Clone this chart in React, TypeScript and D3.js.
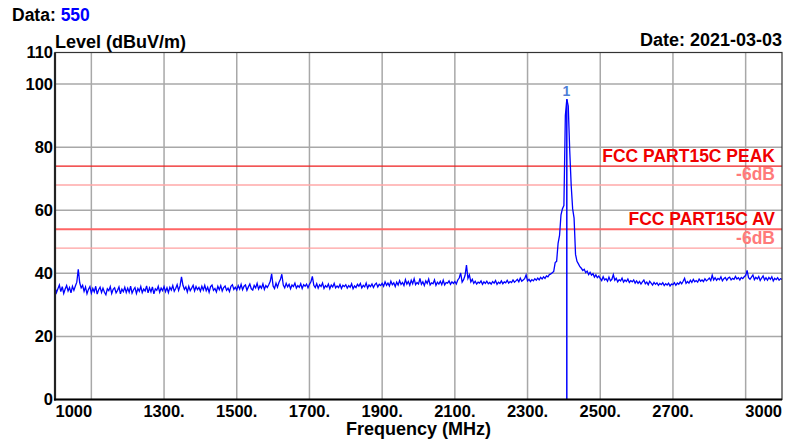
import React from "react";
import { scaleLinear, line } from "d3";

// sweep: 1000..3000 MHz, one reading every 4 MHz
const SWEEP_START = 1000;
const SWEEP_STEP = 4;
const LEVELS = [
  // 1000
  35.6, 33.9, 35.1, 36.3, 34.2, 35.8, 33.6, 35.0, 36.1, 34.4, 35.5, 33.8, 35.9, 34.6, 36.0, 37.2, 41.3, 37.0, 35.4, 36.2, 34.3, 35.7, 33.5, 34.9, 35.8,
  // 1100
  33.7, 35.2, 34.1, 35.9, 33.4, 34.8, 35.6, 33.9, 35.3, 34.0, 33.2, 35.1, 34.5, 35.8, 33.6, 34.9, 35.4, 33.8, 34.6, 35.7, 33.5, 35.0, 34.2, 35.6, 33.9,
  // 1200
  35.3, 34.0, 35.9, 33.7, 34.8, 35.5, 33.6, 35.2, 34.3, 35.8, 33.9, 35.0, 34.4, 36.0, 33.8, 35.4, 34.1, 35.7, 33.5, 35.1, 34.6, 35.9, 34.0, 35.3, 34.5,
  // 1300
  35.8, 34.2, 35.4, 33.9, 35.6, 34.7, 36.1, 34.3, 35.2, 36.4, 34.6, 36.0, 38.9, 36.2, 34.9, 35.7, 34.1, 35.9, 34.5, 35.3, 36.2, 34.4, 35.8, 34.8, 35.5,
  // 1400
  34.3, 35.9, 34.7, 36.2, 34.5, 35.6, 34.0, 35.8, 36.3, 34.6, 35.2, 34.1, 35.9, 34.8, 36.1, 34.4, 35.5, 36.0, 34.6, 35.3, 34.2, 35.9, 36.4, 34.9, 35.6,
  // 1500
  34.7, 36.1, 35.0, 36.5, 34.8, 35.9, 36.3, 34.6, 35.7, 36.6, 35.1, 34.7, 36.2, 35.4, 36.8, 35.0, 36.0, 35.3, 36.7, 34.9, 36.1, 35.5, 36.4, 37.4, 39.8,
  // 1600
  36.0, 35.2, 36.9, 35.6, 37.1, 38.0, 39.7, 36.3, 35.4, 36.8, 35.7, 36.5, 35.1, 36.3, 35.8, 36.9, 35.3, 36.1, 35.6, 36.7, 35.2, 36.4, 35.9, 36.6, 35.4,
  // 1700
  36.5, 37.3, 39.0, 36.2, 35.5, 36.7, 35.3, 36.4, 35.8, 36.9, 35.2, 36.1, 35.6, 36.6, 35.1, 36.3, 35.7, 36.8, 35.4, 36.0, 35.5, 36.5, 35.2, 36.2, 35.8,
  // 1800
  36.4, 35.3, 36.1, 35.6, 36.7, 35.1, 36.0, 35.5, 36.5, 35.9, 36.8, 35.4, 36.2, 35.7, 36.9, 35.3, 36.3, 35.8, 36.6, 35.5, 36.4, 36.9, 35.7, 36.5, 36.1,
  // 1900
  36.8, 35.9, 37.3, 36.2, 36.9, 36.0, 37.5, 36.4, 37.0, 35.8, 37.2, 36.3, 37.7, 36.5, 37.1, 36.1, 38.0, 36.6, 37.4, 36.2, 37.8, 36.7, 38.3, 36.4, 37.1,
  // 2000
  36.6, 38.4, 36.5, 37.3, 36.1, 37.6, 36.8, 38.2, 36.3, 37.0, 36.7, 37.9, 36.2, 37.2, 36.6, 37.5, 36.4, 37.8, 36.3, 37.1, 36.9, 37.6, 36.5, 37.3, 36.8,
  // 2100
  37.4, 36.6, 37.9, 38.5, 40.1, 37.2, 38.0, 39.3, 42.6, 38.4, 39.5, 37.3, 38.1, 36.8, 37.5, 36.6, 37.2, 36.9, 37.6, 36.5, 37.3, 36.8, 37.5, 36.7, 37.1,
  // 2200
  36.6, 37.4, 36.9, 37.7, 36.5, 37.2, 36.8, 37.6, 36.7, 37.3, 37.0, 37.8, 36.9, 37.4, 37.1, 37.9, 37.2, 37.6, 38.1, 37.3, 38.5, 37.5, 37.9, 38.3, 39.5,
  // 2300
  37.6, 38.1, 37.4, 38.0, 37.6, 38.3, 37.8, 38.5, 37.9, 38.7, 38.2, 38.9, 38.4, 39.2, 38.9, 39.6, 39.8, 40.2, 40.6, 43.4, 43.8, 49.5, 52.0, 58.5, 60.5,
  // 2400
  61.5, 90.0, 95.2, 93.0, 79.0, 68.0, 60.5, 57.5, 46.0, 43.8, 43.0, 42.1, 41.6, 40.9, 41.3, 40.2, 40.7, 39.6, 40.3, 39.4, 39.9, 38.8, 39.5, 38.6, 39.1,
  // 2500
  38.4, 37.7, 38.9, 37.9, 38.3, 37.5, 38.8, 37.6, 38.1, 39.6, 37.8, 38.4, 37.3, 38.0, 37.6, 38.5, 37.2, 37.9, 37.4, 38.2, 37.1, 37.7, 37.3, 37.9, 36.9,
  // 2600
  37.6, 36.8, 37.4, 36.6, 37.3, 37.9, 36.7, 37.2, 36.4, 37.5, 36.9, 36.3, 37.1, 36.5, 37.0, 36.2, 36.8, 36.4, 37.0, 36.1, 36.7, 36.3, 36.9, 36.0, 36.6,
  // 2700
  36.4, 37.0, 36.2, 36.9, 36.5, 37.3, 36.7, 37.5, 38.4, 36.8, 37.4, 36.9, 37.8, 37.1, 38.1, 37.3, 37.7, 37.2, 38.2, 37.5, 37.9, 37.4, 38.3, 37.6, 38.0,
  // 2800
  38.5, 37.7, 39.4, 37.9, 38.6, 37.8, 38.4, 38.0, 38.9, 37.6, 38.3, 38.7, 37.8, 38.5, 38.8, 37.9, 38.4, 38.1, 39.0, 38.2, 38.6, 37.9, 38.7, 38.3, 38.9,
  // 2900
  39.3, 40.9, 38.6, 38.1, 38.8, 39.5, 38.0, 38.7, 38.2, 39.0, 37.7, 38.5, 39.2, 37.9, 38.6, 37.8, 38.7, 38.1, 38.9, 37.6, 38.4, 38.0, 38.6, 37.8, 38.3,
  // 3000
  38.1,
];

const MARKER_FREQ = 2408;
const MARKER_LEVEL = 95.2;
const MARKER_LABEL = "1";

const LEVEL_TICKS = [0, 20, 40, 60, 80, 100, 110];
const LEVEL_GRID = [20, 40, 60, 80, 100];
const FREQ_GRID = [1100, 1300, 1500, 1700, 1900, 2100, 2300, 2500, 2700, 2900];
const FREQ_LABEL_VALUES = [1000, 1300, 1500, 1700, 1900, 2100, 2300, 2500, 2700, 3000];
const FREQ_LABEL_TEXT = ["1000", "1300.", "1500.", "1700.", "1900.", "2100.", "2300.", "2500.", "2700.", "3000"];

const LIMIT_LEVELS = [74, 68, 54, 48];
const LIMIT_TEXT = ["FCC PART15C PEAK", "-6dB", "FCC PART15C AV", "-6dB"];

const W = 795;
const H = 441;
const FONT = "'Liberation Sans', Arial, sans-serif";

export default function App() {
  const x = scaleLinear().domain([1000, 3000]).range([55, 782]);
  const y = scaleLinear().domain([0, 110]).range([399.5, 52.5]);

  const pts = LEVELS.map((v, i) => [SWEEP_START + i * SWEEP_STEP, v] as [number, number]);
  const trace = line<[number, number]>()
    .x((d) => x(d[0]))
    .y((d) => y(d[1]))(pts);

  const limitStyle = [
    { stroke: "#ee1c1c", width: 1.2, text: "#f00000" },
    { stroke: "#ffa8a8", width: 1.5, text: "#ff7a7a" },
    { stroke: "#ff6464", width: 2, text: "#f00000" },
    { stroke: "#ffa0a0", width: 1.2, text: "#ff7a7a" },
  ];

  return (
    <div style={{ position: "fixed", left: 0, top: 0 }}>
      <svg width={W} height={H} style={{ display: "block", background: "#fff" }} fontFamily={FONT}>
        {/* header */}
        <text x={12} y={21} fontSize={17.5} fontWeight="bold" fill="#000">
          Data: <tspan fill="#0000ff">550</tspan>
        </text>
        <text x={55} y={47.5} fontSize={18} fontWeight="bold" fill="#000">
          Level (dBuV/m)
        </text>
        <text x={782} y={46} fontSize={18} fontWeight="bold" fill="#000" textAnchor="end">
          Date: 2021-03-03
        </text>

        {/* grid */}
        {FREQ_GRID.map((f) => (
          <line key={"v" + f} x1={x(f)} x2={x(f)} y1={y(110)} y2={y(0)} stroke="#a8a8a8" strokeWidth={1.5} />
        ))}
        {LEVEL_GRID.map((l) => (
          <line key={"h" + l} x1={x(1000)} x2={x(3000)} y1={y(l)} y2={y(l)} stroke="#a8a8a8" strokeWidth={1.5} />
        ))}

        {/* limit lines */}
        {LIMIT_LEVELS.map((l, i) => (
          <g key={"lim" + i}>
            <line
              x1={x(1000)}
              x2={x(3000)}
              y1={y(l)}
              y2={y(l)}
              stroke={limitStyle[i].stroke}
              strokeWidth={limitStyle[i].width}
            />
            <text
              x={775}
              y={y(l) - 4.5}
              fontSize={17.5}
              fontWeight="bold"
              textAnchor="end"
              fill={limitStyle[i].text}
            >
              {LIMIT_TEXT[i]}
            </text>
          </g>
        ))}

        {/* trace */}
        <path d={trace || ""} fill="none" stroke="#0000ff" strokeWidth={1.3} strokeLinejoin="miter" />

        {/* marker */}
        <line
          x1={x(MARKER_FREQ)}
          x2={x(MARKER_FREQ)}
          y1={y(MARKER_LEVEL)}
          y2={y(0)}
          stroke="#0000ff"
          strokeWidth={1.5}
        />
        <text
          x={x(MARKER_FREQ) - 0.5}
          y={y(MARKER_LEVEL) - 3.5}
          fontSize={14}
          fontWeight="bold"
          textAnchor="middle"
          fill="#4f7fd6"
        >
          {MARKER_LABEL}
        </text>

        {/* frame */}
        <rect x={x(1000)} y={y(110)} width={x(3000) - x(1000)} height={y(0) - y(110)} fill="none" stroke="#333" strokeWidth={1.2} />
        <line x1={x(1000)} x2={x(1000)} y1={y(110)} y2={y(0) + 1} stroke="#222" strokeWidth={2.2} />
        <line x1={x(1000) - 1} x2={x(3000)} y1={y(0)} y2={y(0)} stroke="#000" strokeWidth={2} />

        {/* y ticks */}
        {LEVEL_TICKS.map((l) => (
          <text key={"yt" + l} x={53} y={y(l)} dy="0.36em" fontSize={16.5} fontWeight="bold" textAnchor="end" fill="#000">
            {l}
          </text>
        ))}

        {/* x ticks */}
        {FREQ_LABEL_VALUES.map((f, i) => {
          const anchor = i === 0 ? "start" : i === FREQ_LABEL_VALUES.length - 1 ? "end" : "middle";
          return (
            <text key={"xt" + f} x={x(f) + (i === 0 ? 0.5 : 0)} y={416.5} fontSize={16.5} fontWeight="bold" textAnchor={anchor} fill="#000">
              {FREQ_LABEL_TEXT[i]}
            </text>
          );
        })}
        <text x={(x(1000) + x(3000)) / 2} y={435} fontSize={18} fontWeight="bold" textAnchor="middle" fill="#000">
          Frequency (MHz)
        </text>
      </svg>
    </div>
  );
}
